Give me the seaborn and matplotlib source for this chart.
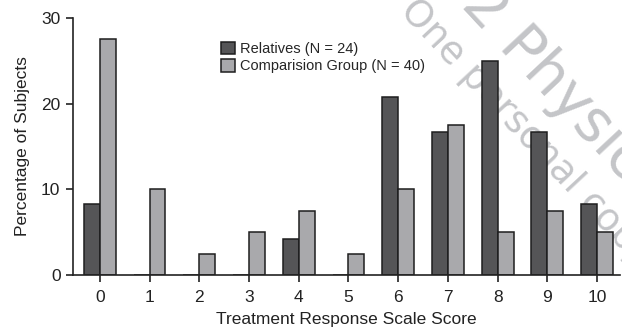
import matplotlib
matplotlib.use("Agg")
import matplotlib.pyplot as plt
import seaborn as sns
import pandas as pd

scores = ["0", "1", "2", "3", "4", "5", "6", "7", "8", "9", "10"]
relatives = [8.3, 0, 0, 0, 4.2, 0, 20.8, 16.7, 25.0, 16.7, 8.3]
comparison = [27.5, 10, 2.5, 5, 7.5, 2.5, 10, 17.5, 5, 7.5, 5]
group_names = ["Relatives (N = 24)", "Comparision Group (N = 40)"]
y_ticks = [0, 10, 20, 30]

df = pd.DataFrame({
    "score": scores * 2,
    "pct": relatives + comparison,
    "group": [group_names[0]] * len(scores) + [group_names[1]] * len(scores),
})

sns.set_theme(style="white")
plt.rcParams["font.family"] = ["Liberation Sans", "DejaVu Sans"]

fig = plt.figure(figsize=(6.22, 3.33), dpi=100)
ax = fig.add_axes([73 / 622, 1 - 275 / 333, (620 - 73) / 622, (275 - 18) / 333])
ax.patch.set_alpha(0)

sns.barplot(data=df, x="score", y="pct", hue="group", order=scores,
            hue_order=group_names, palette=["#555557", "#a8a9ac"],
            width=0.64, edgecolor="#1e1e1e", linewidth=1.1, ax=ax,
            errorbar=None)

ax.set_xlim(-0.54, 10.46)
ax.set_ylim(0, 30)
ax.set_yticks(y_ticks)
for s in ["top", "right"]:
    ax.spines[s].set_visible(False)
for s in ["left", "bottom"]:
    ax.spines[s].set_color("#222222")
    ax.spines[s].set_linewidth(1.2)
ax.tick_params(axis="both", which="major", direction="out", length=5,
               width=1.2, color="#222222", labelsize=12.5, labelcolor="#222222",
               left=True, bottom=True)
ax.tick_params(axis="x", pad=6)
ax.tick_params(axis="y", pad=4)
ax.set_xlabel("Treatment Response Scale Score", fontsize=12.5, color="#222222", labelpad=5)
ax.set_ylabel("Percentage of Subjects", fontsize=12.5, color="#222222", labelpad=8)

ax.legend(loc="upper left", bbox_to_anchor=(0.26, 0.93), frameon=False,
          fontsize=10.5, handlelength=0.95, handleheight=0.95, handletextpad=0.35,
          labelspacing=0.2, borderaxespad=0)

wm = dict(color="#c4c5c8", rotation=-47, rotation_mode="anchor",
          ha="left", va="baseline", zorder=-5, fontweight="normal",
          family=["DejaVu Sans"])
fig.text(460 / 622, 1 - 6 / 333, "2 Physicians Postgraduate Press, Inc.",
         fontsize=42, **wm)
fig.text(399 / 622, 1 - 12 / 333, "One personal copy may be printed",
         fontsize=27, **wm)

fig.savefig("out.png", dpi=100)
